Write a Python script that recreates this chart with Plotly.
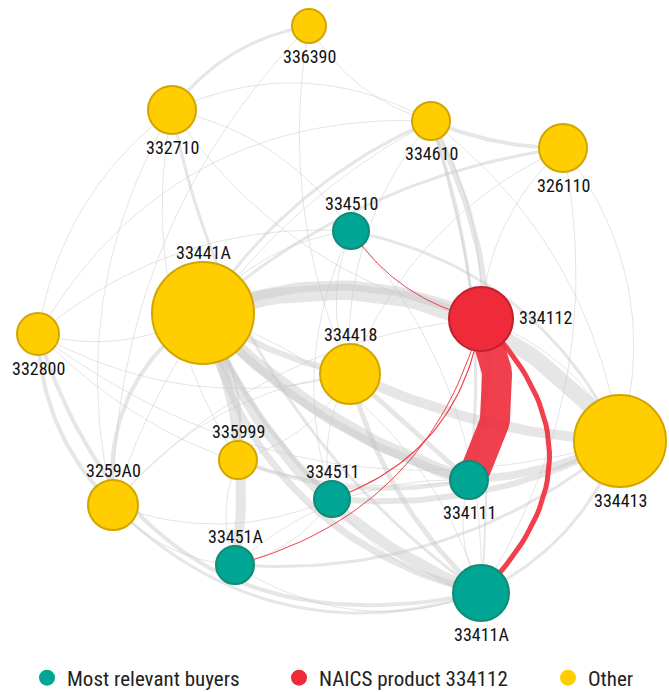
import numpy as np
import plotly.graph_objects as go

# ---------------- data ----------------
node_ids = ["336390", "332710", "334610", "326110", "334510", "33441A", "332800",
            "334112", "334418", "334413", "335999", "3259A0", "334511", "334111",
            "33451A", "33411A"]
node_group = ["Other", "Other", "Other", "Other", "Buyer", "Other", "Other",
              "Product", "Other", "Other", "Other", "Other", "Buyer", "Buyer",
              "Buyer", "Buyer"]
node_value = [17, 24, 19, 24, 18, 51, 21, 32, 30, 46, 19, 25, 18, 19, 19, 28]

# layout (pixel positions of the force layout)
node_x = [309, 172, 431, 563, 351, 203, 38, 481, 350, 620, 238, 113, 332, 469, 235, 481]
node_y = [26, 110, 121, 148, 231, 313, 334, 319, 374, 441, 460, 505, 499, 480, 565, 593]
label_side = ["bottom", "bottom", "bottom", "bottom", "top", "top", "bottom", "right",
              "top", "bottom", "top", "top", "top", "bottom", "top", "bottom"]

edge_source = ["33441A", "33441A", "33441A", "33441A", "334111", "33411A", "334418", "33441A",
               "334511", "33451A", "332800", "3259A0", "332800", "336390", "334610", "332710",
               "326110", "334610", "334610", "334610", "334510", "334418", "334418", "33441A",
               "335999", "335999", "3259A0", "33441A",
               "336390", "336390", "336390", "332710", "332710", "332710", "332710", "332710",
               "332800", "332800", "332800", "332800", "332800", "332800", "326110", "326110",
               "326110", "326110", "334610", "334610", "334610", "334610", "334510", "334510",
               "334510", "334510", "334510", "3259A0", "3259A0", "3259A0", "3259A0", "335999",
               "335999", "33451A", "33451A", "33451A", "334511", "334111", "334112", "334418",
               "33411A", "334610", "33441A", "33441A",
               "334112", "334112", "334112", "334112", "334510"]
edge_target = ["334413", "334111", "33411A", "33451A", "334413", "334413", "334413", "334112",
               "334413", "334413", "33411A", "33441A", "3259A0", "332710", "326110", "33411A",
               "33441A", "33441A", "334111", "33411A", "334413", "33411A", "334111", "334511",
               "334111", "33441A", "33411A", "334418",
               "334610", "3259A0", "334418", "334610", "334112", "332800", "335999", "3259A0",
               "33441A", "334510", "334610", "334413", "334418", "334111", "334112", "334413",
               "33411A", "334418", "334418", "334112", "3259A0", "334413", "33441A", "334418",
               "334511", "33411A", "332710", "334511", "33451A", "334418", "334112", "33451A",
               "334418", "334511", "33411A", "334111", "33411A", "33411A", "334413", "334511",
               "33441A", "334111", "334111", "33411A",
               "334111", "33411A", "334511", "33451A", "334112"]
edge_weight = [16, 13, 11, 10, 8, 3, 10, 10,
               6, 3, 4, 4, 4, 3, 4, 3,
               3, 3, 3, 2, 3, 5, 5, 5,
               4, 3, 3, 6,
               1, 1, 1, 1, 1, 1, 1, 1,
               1, 1, 1, 1, 1, 1, 1, 1,
               1, 1, 1, 1, 1, 1, 1, 1,
               1, 1, 1, 1, 1, 1, 1, 1,
               1, 1, 1, 1, 1, 1, 1, 1,
               1, 6, 8, 7,
               30, 5, 1.2, 1, 1]
# curvature of each link (layout)
edge_bend = [-0.34, 0.13, 0.22, -0.15, 0.1, 0.2, 0.1, -0.22,
             0.15, 0.2, 0.45, -0.3, 0.2, 0.2, 0.1, 0.2,
             0.15, 0.15, -0.12, -0.1, -0.25, 0.15, 0.0, 0.1,
             0.15, 0.2, 0.3, 0.1,
             0.2, 0.2, 0.15, -0.25, 0.2, 0.2, 0.2, 0.2,
             0.2, -0.2, -0.3, 0.25, 0.2, 0.25, 0.2, -0.25,
             -0.2, 0.2, 0.2, -0.15, 0.2, -0.2, 0.2, 0.2,
             0.2, -0.2, 0.2, 0.2, 0.2, -0.2, -0.2, 0.2,
             0.2, 0.2, 0.25, -0.2, 0.2, 0.2, -0.2, 0.2,
             0.25, -0.2, 0.15, 0.3,
             -0.28, -0.5, -0.3, -0.29, 0.2]

legend_names = {"Buyer": "Most relevant buyers", "Product": "NAICS product 334112", "Other": "Other"}

# ---------------- styles ----------------
FILL = {"Buyer": "#00A693", "Product": "#EF2B3A", "Other": "#FFCD00"}
LINE = {"Buyer": "#118A78", "Product": "#C01F2D", "Other": "#D1A600"}
FONT = "Liberation Sans Narrow, Roboto Condensed, DejaVu Sans Condensed, Arial Narrow, sans-serif"

idx = {n: i for i, n in enumerate(node_ids)}
fig = go.Figure()


def bezier(s, t, bend, n=40):
    x0, y0 = node_x[idx[s]], node_y[idx[s]]
    x1, y1 = node_x[idx[t]], node_y[idx[t]]
    dx, dy = x1 - x0, y1 - y0
    L = np.hypot(dx, dy)
    px, py = -dy / L, dx / L
    cx = (x0 + x1) / 2 + px * bend * L
    cy = (y0 + y1) / 2 + py * bend * L
    u = np.linspace(0, 1, n)
    bx = (1 - u) ** 2 * x0 + 2 * (1 - u) * u * cx + u ** 2 * x1
    by = (1 - u) ** 2 * y0 + 2 * (1 - u) * u * cy + u ** 2 * y1
    return bx, by


def is_red(k):
    s, t = edge_source[k], edge_target[k]
    if "334112" not in (s, t):
        return False
    other = t if s == "334112" else s
    return node_group[idx[other]] == "Buyer"


order = sorted(range(len(edge_source)), key=lambda k: (is_red(k), edge_weight[k]))
for k in order:
    s, t, w = edge_source[k], edge_target[k], edge_weight[k]
    bx, by = bezier(s, t, edge_bend[k])
    if is_red(k):
        color = "rgba(239,43,58,0.9)"
    elif w <= 1:
        color = "rgba(205,205,205,0.55)"
    else:
        color = "rgba(200,200,200,0.45)"
    fig.add_trace(go.Scatter(x=bx, y=by, mode="lines",
                             line=dict(color=color, width=w), hoverinfo="skip",
                             showlegend=False))

# nodes
fig.add_trace(go.Scatter(
    x=node_x, y=node_y, mode="markers",
    marker=dict(size=[2 * v for v in node_value],
                color=[FILL[g] for g in node_group],
                line=dict(color=[LINE[g] for g in node_group], width=2),
                opacity=1),
    text=node_ids, hoverinfo="text", showlegend=False, cliponaxis=False))

# node labels, placed just outside each circle
for n, x, y, r, side in zip(node_ids, node_x, node_y, node_value, label_side):
    if side == "top":
        ax, ay, xa = x, y - r - 10, "center"
    elif side == "bottom":
        ax, ay, xa = x, y + r + 13, "center"
    else:
        ax, ay, xa = x + r + 4, y - 2, "left"
    fig.add_annotation(x=ax, y=ay, text=n, showarrow=False, xanchor=xa, yanchor="middle",
                       font=dict(family=FONT, size=18, color="#111111"))

# legend entries (one legend per entry so they spread along the bottom)
legend_keys = ["legend", "legend2", "legend3"]
legend_x = [27, 279, 548]
for g, lk in zip(["Buyer", "Product", "Other"], legend_keys):
    fig.add_trace(go.Scatter(x=[None], y=[None], mode="markers", name=legend_names[g],
                             legend=lk,
                             marker=dict(size=18, color=FILL[g], line=dict(width=0))))

leg_common = dict(orientation="h", xanchor="left", y=1 - 678 / 692, yanchor="middle",
                  font=dict(family=FONT, size=21, color="#222222"),
                  bgcolor="rgba(0,0,0,0)")
fig.update_layout(
    width=669, height=692, margin=dict(l=0, r=0, t=0, b=0, autoexpand=False),
    paper_bgcolor="white", plot_bgcolor="white",
    xaxis=dict(range=[0, 669], visible=False, fixedrange=True, automargin=False),
    yaxis=dict(range=[692, 0], visible=False, fixedrange=True, automargin=False),
    showlegend=True,
    legend=dict(x=legend_x[0] / 669, **leg_common),
    legend2=dict(x=legend_x[1] / 669, **leg_common),
    legend3=dict(x=legend_x[2] / 669, **leg_common),
)

# remove the default page margin so the figure sits at the window's top-left corner
fig.write_html("out.html",
               config={"displayModeBar": False},
               post_script="document.body.style.margin='0px';"
                           "document.body.style.overflow='hidden';")
